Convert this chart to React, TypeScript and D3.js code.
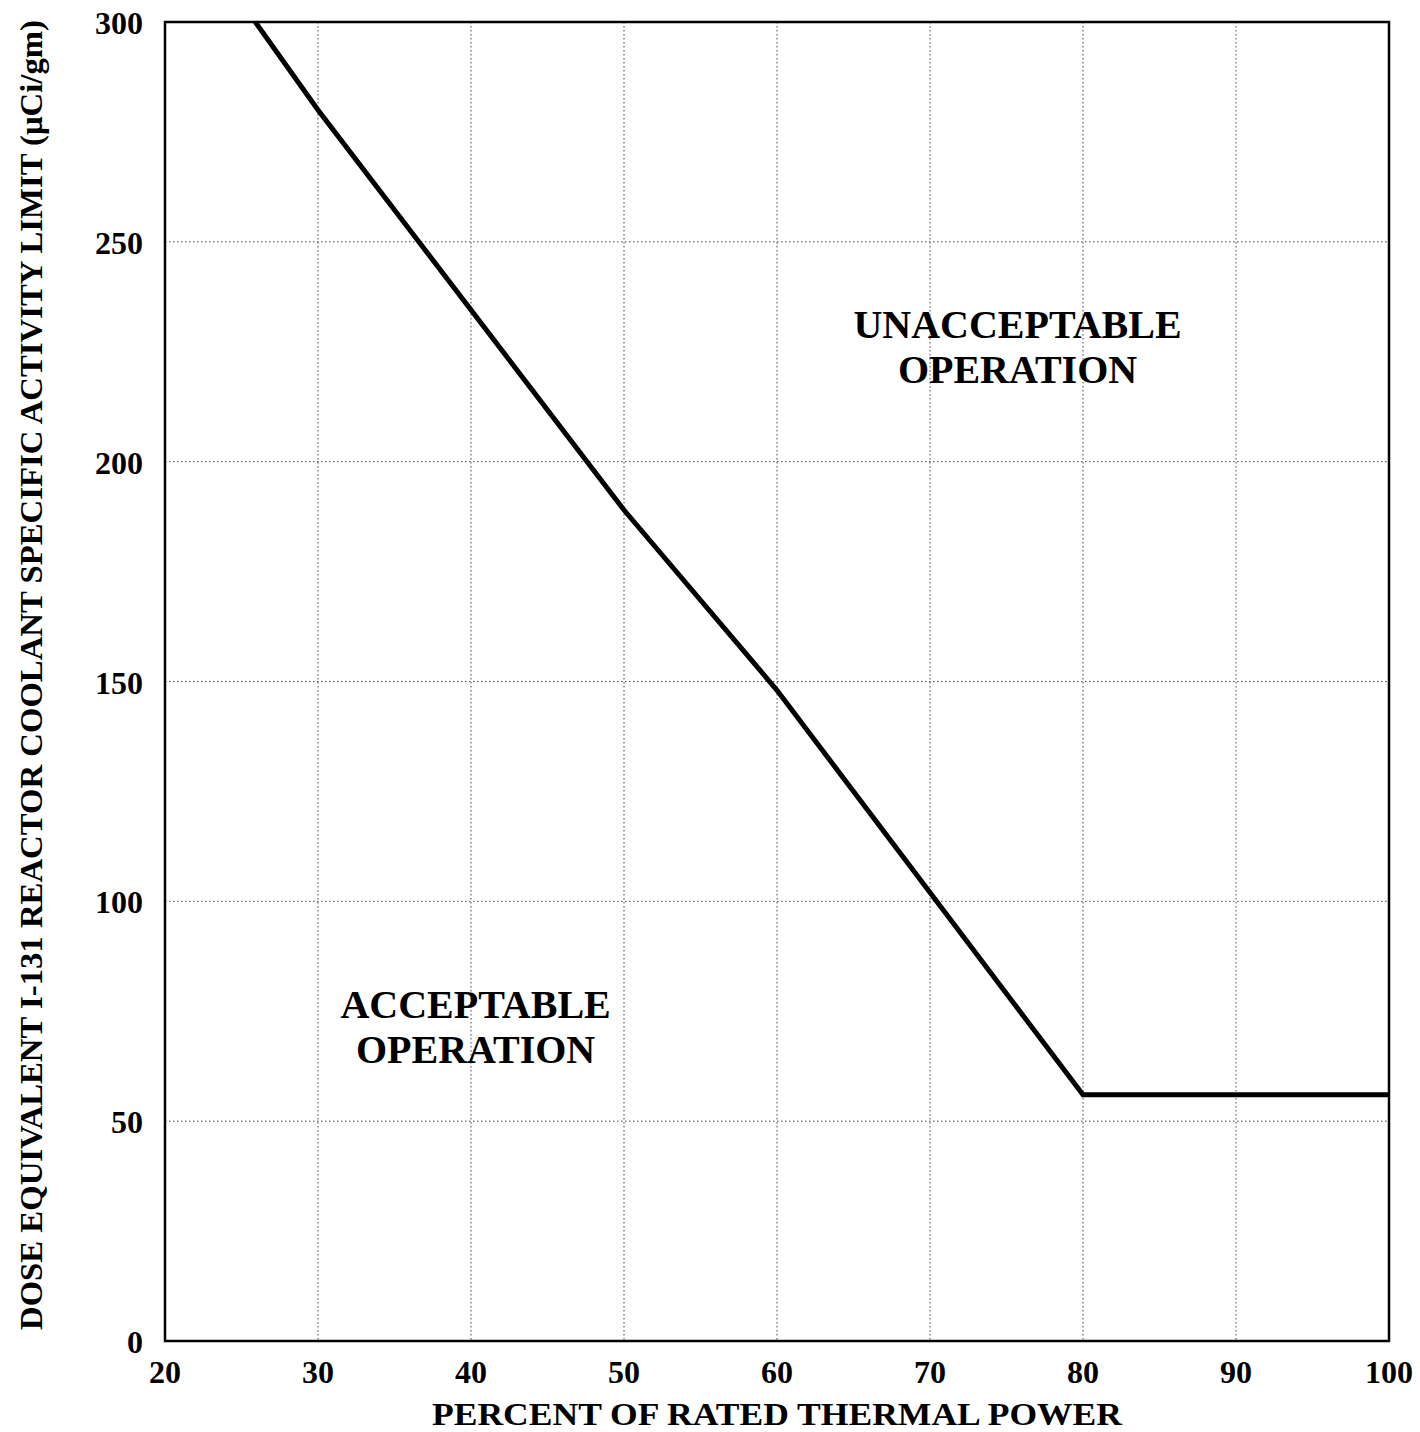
import React from "react";
import * as d3 from "d3";

const powerPct = [25.9, 30, 50, 60, 70, 80, 100];
const activityLimit = [300, 280, 189, 148, 102, 56, 56];
const xTicks = [20, 30, 40, 50, 60, 70, 80, 90, 100];
const yTicks = [0, 50, 100, 150, 200, 250, 300];
const xTitle = "PERCENT OF RATED THERMAL POWER";
const yTitle = "DOSE EQUIVALENT I-131 REACTOR COOLANT SPECIFIC ACTIVITY LIMIT (\u03BCCi/gm)";

const W = 1420, H = 1432;
const left = 165, right = 1389, top = 22, bottom = 1341;
const FONT = "'Liberation Serif', 'Times New Roman', serif";

export default function App() {
  const x = d3.scaleLinear().domain([20, 100]).range([left, right]);
  const y = d3.scaleLinear().domain([0, 300]).range([bottom, top]);
  const pts: [number, number][] = powerPct.map((p, i) => [p, activityLimit[i]]);
  const line = d3.line<[number, number]>().x(d => x(d[0])).y(d => y(d[1]));

  return (
    <svg width={W} height={H} style={{ position: "absolute", left: 0, top: 0, background: "#fff" }}
      fontFamily={FONT} fontWeight="bold">
      <rect x={0} y={0} width={W} height={H} fill="#fff" />
      {xTicks.slice(1, -1).map(t => (
        <line key={"gx" + t} x1={x(t)} x2={x(t)} y1={top} y2={bottom}
          stroke="#444" strokeWidth={1} strokeDasharray="1.5,2.5" />
      ))}
      {yTicks.slice(1, -1).map(t => (
        <line key={"gy" + t} x1={left} x2={right} y1={y(t)} y2={y(t)}
          stroke="#444" strokeWidth={1} strokeDasharray="1.5,2.5" />
      ))}
      <rect x={left} y={top} width={right - left} height={bottom - top}
        fill="none" stroke="#000" strokeWidth={2.5} />
      <path d={line(pts) || ""} fill="none" stroke="#000" strokeWidth={5} strokeLinejoin="miter" />
      {yTicks.map(t => (
        <text key={"ty" + t} x={left - 22} y={y(t) + 12} textAnchor="end" fontSize={32}>{t}</text>
      ))}
      {xTicks.map(t => (
        <text key={"tx" + t} x={x(t)} y={bottom + 42} textAnchor="middle" fontSize={32}>{t}</text>
      ))}
      <text x={432} y={1425} textAnchor="start" fontSize={31}
        textLength={690} lengthAdjust="spacingAndGlyphs">{xTitle}</text>
      <text transform={`translate(42, ${675}) rotate(-90)`} textAnchor="middle" fontSize={31}
        textLength={1310} lengthAdjust="spacingAndGlyphs">{yTitle}</text>
      <text x={x(75.72)} y={338} textAnchor="middle" fontSize={40}>UNACCEPTABLE</text>
      <text x={x(75.72)} y={383} textAnchor="middle" fontSize={40}>OPERATION</text>
      <text x={x(40.3)} y={1018} textAnchor="middle" fontSize={40}>ACCEPTABLE</text>
      <text x={x(40.3)} y={1063} textAnchor="middle" fontSize={40}>OPERATION</text>
    </svg>
  );
}
